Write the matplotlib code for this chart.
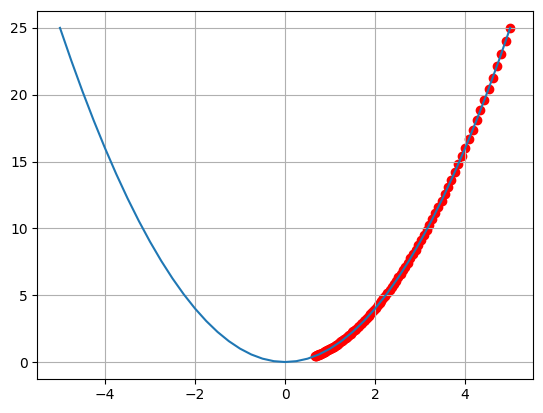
import matplotlib
matplotlib.use('Agg')
import matplotlib.pyplot as plt

# кривая
curve_x = [-5.0, -4.75, -4.5, -4.25, -4.0, -3.75, -3.5, -3.25, -3.0, -2.75,
           -2.5, -2.25, -2.0, -1.75, -1.5, -1.25, -1.0, -0.75, -0.5, -0.25,
           0.0, 0.25, 0.5, 0.75, 1.0, 1.25, 1.5, 1.75, 2.0, 2.25,
           2.5, 2.75, 3.0, 3.25, 3.5, 3.75, 4.0, 4.25, 4.5, 4.75, 5.0]
curve_y = [25.0, 22.5625, 20.25, 18.0625, 16.0, 14.0625, 12.25, 10.5625, 9.0, 7.5625,
           6.25, 5.0625, 4.0, 3.0625, 2.25, 1.5625, 1.0, 0.5625, 0.25, 0.0625,
           0.0, 0.0625, 0.25, 0.5625, 1.0, 1.5625, 2.25, 3.0625, 4.0, 5.0625,
           6.25, 7.5625, 9.0, 10.5625, 12.25, 14.0625, 16.0, 18.0625, 20.25, 22.5625, 25.0]

# точки спуска
pts_x = [5.0, 4.9, 4.802, 4.706, 4.6118, 4.5196, 4.4292, 4.3406, 4.2538, 4.1687,
         4.0854, 4.0037, 3.9236, 3.8451, 3.7682, 3.6928, 3.619, 3.5466, 3.4757, 3.4062,
         3.338, 3.2713, 3.2059, 3.1417, 3.0789, 3.0173, 2.957, 2.8978, 2.8399, 2.7831,
         2.7274, 2.6729, 2.6194, 2.567, 2.5157, 2.4654, 2.4161, 2.3678, 2.3204, 2.274,
         2.2285, 2.1839, 2.1403, 2.0975, 2.0555, 2.0144, 1.9741, 1.9346, 1.8959, 1.858,
         1.8209, 1.7844, 1.7488, 1.7138, 1.6795, 1.6459, 1.613, 1.5807, 1.5491, 1.5181,
         1.4878, 1.458, 1.4289, 1.4003, 1.3723, 1.3448, 1.3179, 1.2916, 1.2657, 1.2404,
         1.2156, 1.1913, 1.1675, 1.1441, 1.1212, 1.0988, 1.0768, 1.0553, 1.0342, 1.0135,
         0.9932, 0.9734, 0.9539, 0.9348, 0.9161, 0.8978, 0.8799, 0.8623, 0.845, 0.8281,
         0.8116, 0.7953, 0.7794, 0.7638, 0.7486, 0.7336, 0.7189, 0.7045, 0.6904, 0.6766,
         0.6631]
pts_y = [25.0, 24.01, 23.06, 22.15, 21.27, 20.43, 19.62, 18.84, 18.09, 17.38,
         16.69, 16.03, 15.39, 14.78, 14.2, 13.64, 13.1, 12.58, 12.08, 11.6,
         11.14, 10.7, 10.28, 9.87, 9.48, 9.1, 8.74, 8.4, 8.07, 7.75,
         7.44, 7.14, 6.86, 6.59, 6.33, 6.08, 5.84, 5.61, 5.38, 5.17,
         4.97, 4.77, 4.58, 4.4, 4.23, 4.06, 3.9, 3.74, 3.59, 3.45,
         3.32, 3.18, 3.06, 2.94, 2.82, 2.71, 2.6, 2.5, 2.4, 2.3,
         2.21, 2.13, 2.04, 1.96, 1.88, 1.81, 1.74, 1.67, 1.6, 1.54,
         1.48, 1.42, 1.36, 1.31, 1.26, 1.21, 1.16, 1.11, 1.07, 1.03,
         0.99, 0.95, 0.91, 0.87, 0.84, 0.81, 0.77, 0.74, 0.71, 0.69,
         0.66, 0.63, 0.61, 0.58, 0.56, 0.54, 0.52, 0.5, 0.48, 0.46,
         0.44]

fig, ax = plt.subplots(figsize=(5.43, 4.13), dpi=100)
fig.subplots_adjust(left=0.069, right=0.981, top=0.973, bottom=0.083)

ax.scatter(pts_x, pts_y, color='red')
ax.plot(curve_x, curve_y)
ax.grid(True)

plt.savefig('out.png')
